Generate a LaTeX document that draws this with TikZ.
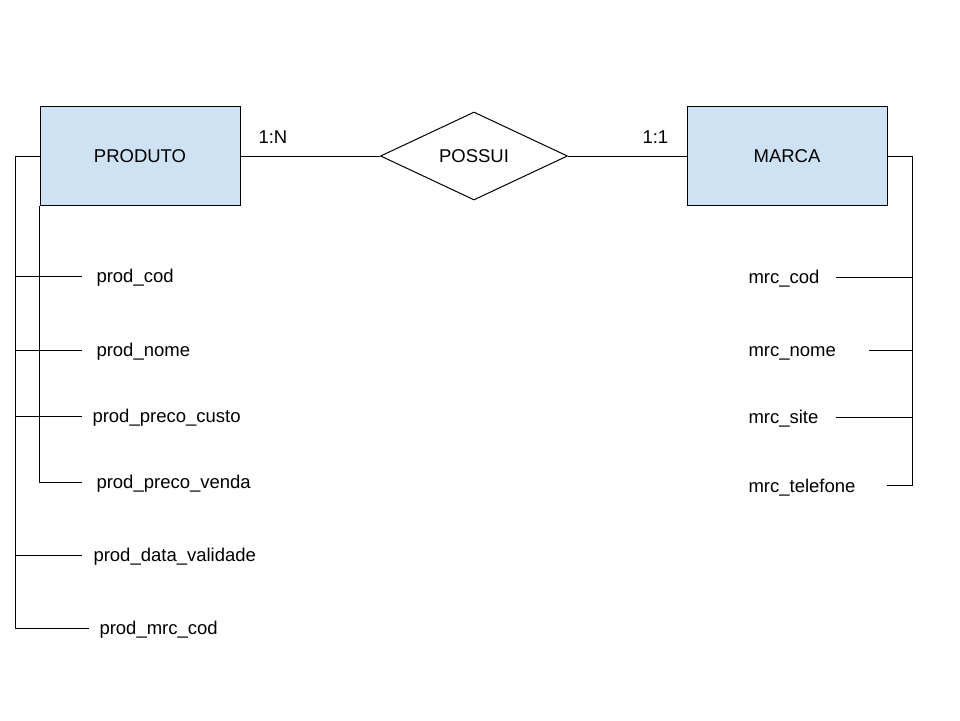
\documentclass[tikz,border=0pt]{standalone}
\usepackage{fontspec}
\setmainfont{Liberation Sans}
\usetikzlibrary{shapes.geometric}
\definecolor{entfill}{HTML}{CFE2F3}
\begin{document}
\begin{tikzpicture}[x=1pt,y=-1pt,line width=1pt,
  font=\fontsize{18.5}{22}\selectfont,
  entity/.style={draw,fill=entfill,minimum width=200pt,minimum height=99pt,inner sep=0pt},
  rel/.style={draw,diamond,minimum width=187pt,minimum height=88pt,inner sep=0pt},
  attr/.style={anchor=base west,inner sep=0pt},
  card/.style={anchor=base west,inner sep=0pt}]
\useasboundingbox (0,0) rectangle (960,720);
% entities and relation
\node[entity] (prod) at (140,156) {PRODUTO};
\node[entity] (marca) at (787,156) {MARCA};
\node[rel] (possui) at (474,156) {POSSUI};
\draw (prod.east) -- (possui.west);
\draw (possui.east) -- (marca.west);
\node[card] (cn) at (258,143) {1:N};
\node[card] (c1) at (642,143) {1:1};
% PRODUTO attributes
\node[attr] (a1) at (96,282.5) {prod\_cod};
\node[attr] (a2) at (96,356.5) {prod\_nome};
\node[attr] (a3) at (92,422.5) {prod\_preco\_custo};
\node[attr] (a4) at (96,488.5) {prod\_preco\_venda};
\node[attr] (a5) at (93,561.5) {prod\_data\_validade};
\node[attr] (a6) at (99,634.5) {prod\_mrc\_cod};
\coordinate (lt) at (15,156);
\coordinate (lb) at (15,628);
\coordinate (l1) at (15,276);
\coordinate (l2) at (15,350);
\coordinate (l3) at (15,416);
\coordinate (l5) at (15,555);
\coordinate (e1) at (82,276);
\coordinate (e2) at (82,350);
\coordinate (e3) at (82,416);
\coordinate (e4) at (82,482);
\coordinate (e5) at (82,555);
\coordinate (e6) at (89,628);
\draw (prod.west) -- (lt) -- (lb) -- (e6);
\draw (l1) -- (e1);
\draw (l2) -- (e2);
\draw (l3) -- (e3);
\draw (l5) -- (e5);
\draw (prod.south west) |- (e4);
% MARCA attributes
\node[attr] (m1) at (748,283.5) {mrc\_cod};
\node[attr] (m2) at (748,356.5) {mrc\_nome};
\node[attr] (m3) at (748,423.5) {mrc\_site};
\node[attr] (m4) at (748,492) {mrc\_telefone};
\coordinate (rt) at (912,156);
\coordinate (rb) at (912,485);
\coordinate (r1) at (912,277);
\coordinate (r2) at (912,350);
\coordinate (r3) at (912,417);
\coordinate (f1) at (836,277);
\coordinate (f2) at (869,350);
\coordinate (f3) at (836,417);
\coordinate (f4) at (887,485);
\draw (marca.east) -- (rt) -- (rb) -- (f4);
\draw (r1) -- (f1);
\draw (r2) -- (f2);
\draw (r3) -- (f3);
\end{tikzpicture}
\end{document}
